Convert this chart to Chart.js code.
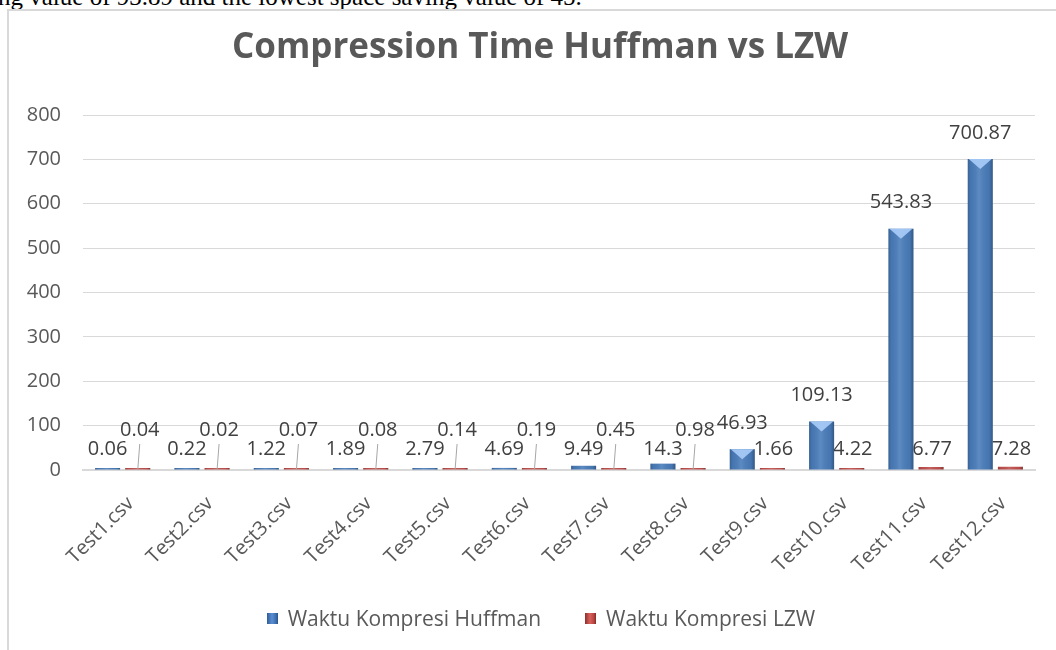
<!DOCTYPE html>
<html>
<head>
<meta charset="utf-8">
<script src="https://cdn.jsdelivr.net/npm/chart.js@4/dist/chart.umd.min.js"></script>
<style>
  html, body { margin: 0; padding: 0; width: 1056px; height: 650px; overflow: hidden; background: #fff; }
  #teks { position: absolute; left: -2px; top: -16px; font: 25px/25px "Liberation Serif", serif; color: #000; white-space: nowrap; }
  #bingkai { position: absolute; left: 7px; top: 9px; width: 1100px; height: 700px; border-left: 2px solid #d9d9d9; border-top: 2px solid #d9d9d9; }
  #wadah { position: absolute; left: 0; top: 0; width: 1080px; height: 650px; }
  #legenda { position: absolute; left: 0; top: 605px; width: 1082px; display: flex; justify-content: center;
             font: 21px/26px "Open Sans", sans-serif; color: #595959; }
  #legenda .item { display: flex; align-items: center; margin: 0 22px; }
  #legenda .kotak { width: 11px; height: 11px; margin-right: 10px; }
</style>
</head>
<body>
<div id="teks">ng value of 93.89 and the lowest space saving value of 45.</div>
<div id="bingkai"></div>
<div id="wadah"><canvas id="grafik"></canvas></div>
<div id="legenda"></div>
<script>
// DATA GRAFIK
var kategori = ['Test1.csv', 'Test2.csv', 'Test3.csv', 'Test4.csv', 'Test5.csv', 'Test6.csv',
                'Test7.csv', 'Test8.csv', 'Test9.csv', 'Test10.csv', 'Test11.csv', 'Test12.csv'];
var waktuHuffman = [0.06, 0.22, 1.22, 1.89, 2.79, 4.69, 9.49, 14.3, 46.93, 109.13, 543.83, 700.87];
var waktuLZW = [0.04, 0.02, 0.07, 0.08, 0.14, 0.19, 0.45, 0.98, 1.66, 4.22, 6.77, 7.28];
var sumbuY = [0, 100, 200, 300, 400, 500, 600, 700, 800];

var FONT = '"Open Sans", sans-serif';
var ABU = '#595959';

// label Huffman "rendah" (nilai kecil) -> label LZW dinaikkan + garis penunjuk
function labelRendah(bar, dasar) {
    return bar.y - 24 > dasar - 35;
}

// efek 3D sederhana pada batang
var efekBatang = {
    id: 'efekBatang',
    afterDatasetDraw: function(chart, args) {
        var ctx = chart.ctx;
        var warnaAtas = args.index === 0 ? 'rgba(170,205,250,0.9)' : 'rgba(245,170,165,0.9)';
        ctx.save();
        args.meta.data.forEach(function(bar) {
            var p = bar.getProps(['x', 'y', 'base', 'width'], true);
            var x0 = p.x - p.width / 2, x1 = p.x + p.width / 2;
            var h = p.base - p.y;
            var g = ctx.createLinearGradient(x0, 0, x1, 0);
            g.addColorStop(0, 'rgba(0,0,0,0.22)');
            g.addColorStop(0.12, 'rgba(0,0,0,0.05)');
            g.addColorStop(0.45, 'rgba(255,255,255,0.10)');
            g.addColorStop(0.85, 'rgba(0,0,0,0.05)');
            g.addColorStop(1, 'rgba(0,0,0,0.30)');
            ctx.fillStyle = g;
            ctx.fillRect(x0, p.y, p.width, h);
            if (h > 6) {
                var d = Math.min(10, h / 2);
                ctx.fillStyle = warnaAtas;
                ctx.beginPath();
                ctx.moveTo(x0 + 1, p.y);
                ctx.lineTo(x1 - 1, p.y);
                ctx.lineTo(p.x, p.y + d);
                ctx.closePath();
                ctx.fill();
            }
        });
        ctx.restore();
    }
};

// label nilai + garis penunjuk
var labelNilai = {
    id: 'labelNilai',
    // label LZW di samping batang digambar dulu, sehingga tertutup batang Huffman (seperti di referensi)
    beforeDatasetsDraw: function(chart) {
        var ctx = chart.ctx;
        var dasar = chart.scales.y.getPixelForValue(0);
        var metaH = chart.getDatasetMeta(0);
        var metaL = chart.getDatasetMeta(1);
        ctx.save();
        ctx.font = '20px ' + FONT;
        ctx.fillStyle = '#404040';
        ctx.textAlign = 'center';
        ctx.textBaseline = 'middle';
        metaH.data.forEach(function(bar, i) {
            if (!labelRendah(bar, dasar)) {
                ctx.fillText(String(waktuLZW[i]), metaL.data[i].x + 1, dasar - 21);
            }
        });
        ctx.restore();
    },
    afterDatasetsDraw: function(chart) {
        var ctx = chart.ctx;
        var dasar = chart.scales.y.getPixelForValue(0);
        var metaH = chart.getDatasetMeta(0);
        var metaL = chart.getDatasetMeta(1);
        ctx.save();
        ctx.font = '20px ' + FONT;
        ctx.fillStyle = '#404040';
        ctx.textAlign = 'center';
        ctx.textBaseline = 'middle';
        metaH.data.forEach(function(bar, i) {
            var rendah = labelRendah(bar, dasar);
            var yH = rendah ? dasar - 21 : bar.y - 26;
            ctx.fillText(String(waktuHuffman[i]), bar.x, yH);
            if (rendah) {
                var l = metaL.data[i];
                ctx.fillText(String(waktuLZW[i]), l.x + 2, dasar - 40);
                ctx.strokeStyle = '#a6a6a6';
                ctx.lineWidth = 1;
                ctx.beginPath();
                ctx.moveTo(l.x + 2, dasar - 26);
                ctx.lineTo(l.x, dasar);
                ctx.stroke();
            }
        });
        ctx.restore();
    }
};

var warnaSeri = [
    'linear-gradient(to right, #2f5d97, #5b8fd3 45%, #3d70b0 80%, #2a5389)',
    'linear-gradient(to right, #8e2f2c, #d9625e 45%, #b84541 80%, #842a27)'
];

var ctx = document.getElementById('grafik').getContext('2d');
var grafik = new Chart(ctx, {
    type: 'bar',
    data: {
        labels: kategori,
        datasets: [{
            label: 'Waktu Kompresi Huffman',
            data: waktuHuffman,
            backgroundColor: '#4a7dbb',
            borderWidth: 0,
            minBarLength: 2,
            barPercentage: 0.83,
            categoryPercentage: 0.76
        }, {
            label: 'Waktu Kompresi LZW',
            data: waktuLZW,
            backgroundColor: '#c0504d',
            borderWidth: 0,
            minBarLength: 2,
            barPercentage: 0.83,
            categoryPercentage: 0.76
        }]
    },
    options: {
        responsive: true,
        maintainAspectRatio: false,
        animation: false,
        layout: { padding: 0 },
        plugins: {
            title: {
                display: true,
                text: 'Compression Time Huffman vs LZW',
                color: ABU,
                font: { family: FONT, size: 35, weight: 'bold' },
                padding: { top: 27, bottom: 46 }
            },
            legend: { display: false },
            tooltip: { enabled: false }
        },
        scales: {
            y: {
                min: 0,
                max: 800,
                afterBuildTicks: function(scale) {
                    scale.ticks = sumbuY.map(function(v) { return { value: v }; });
                },
                afterFit: function(scale) { scale.width = 83; },
                grid: { color: '#d9d9d9', drawTicks: false },
                border: { display: false },
                ticks: {
                    color: ABU,
                    font: { family: FONT, size: 20 },
                    padding: 22
                }
            },
            x: {
                afterFit: function(scale) { scale.height = 180; },
                grid: { display: false, drawTicks: false },
                border: { display: true, color: '#d9d9d9', width: 2 },
                ticks: {
                    color: ABU,
                    font: { family: FONT, size: 20 },
                    minRotation: 45,
                    maxRotation: 45,
                    padding: 22,
                    labelOffset: 8
                }
            },
            // sumbu kosong di kanan: hanya untuk memberi ruang kanan agar judul tetap di tengah
            kanan: {
                type: 'linear',
                position: 'right',
                afterFit: function(scale) { scale.width = 45; },
                grid: { display: false },
                border: { display: false },
                ticks: { display: false }
            }
        }
    },
    plugins: [efekBatang, labelNilai]
});

// legenda HTML
var legenda = document.getElementById('legenda');
grafik.data.datasets.forEach(function(ds, i) {
    var item = document.createElement('div');
    item.className = 'item';
    var kotak = document.createElement('span');
    kotak.className = 'kotak';
    kotak.style.background = warnaSeri[i];
    var teks = document.createElement('span');
    teks.textContent = ds.label;
    item.appendChild(kotak);
    item.appendChild(teks);
    legenda.appendChild(item);
});
</script>
</body>
</html>
